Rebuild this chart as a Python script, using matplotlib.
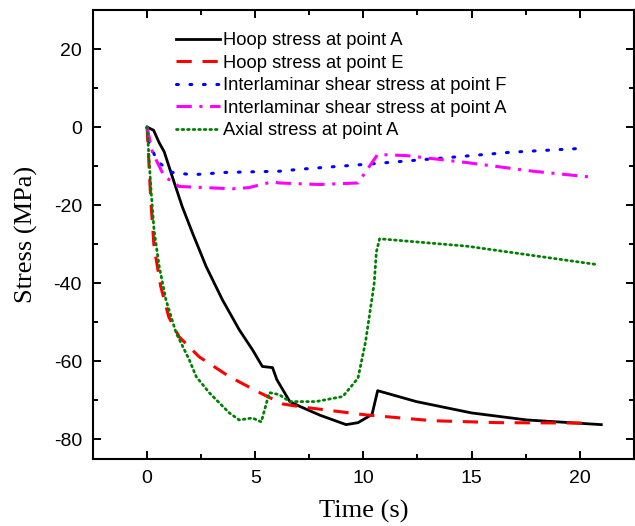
import matplotlib
matplotlib.use("Agg")
import matplotlib.pyplot as plt
from matplotlib.ticker import MultipleLocator

# Hoop stress at point A
t_hoop_a = [0, 0.3, 0.56, 0.79, 1.16, 1.62, 2.09, 2.73, 3.48, 4.26, 4.87, 5.33, 5.8, 6.0, 6.6, 7.05, 8.0, 9.2, 9.75,
            10.4, 10.66, 12.45, 15.0, 17.55, 21.0]
s_hoop_a = [0, -0.8, -4, -6.3, -12.6, -20.3, -27, -35.7, -44.2, -51.9, -57, -61.3, -61.6, -64.7, -70.3, -71.5, -73.8,
            -76.2, -75.7, -73.6, -67.5, -70.3, -73.2, -75.0, -76.2]

# Hoop stress at point E
t_hoop_e = [0, 0.17, 0.32, 0.63, 1.0, 1.48, 2.4, 3.8, 5.2, 6.27, 7.05, 10.1, 13.2, 16.3, 20.25]
s_hoop_e = [0, -18.6, -30.6, -40.8, -48.6, -53.7, -58.8, -63.9, -68, -70.9, -71.6, -73.7, -75.2, -75.7, -75.8]

# Interlaminar shear stress at point F
t_shear_f = [0, 0.1, 0.47, 1.16, 2.09, 3.63, 6.1, 7.05, 10.4, 13.7, 16.9, 20.25]
s_shear_f = [0, -4, -8.8, -11.6, -12.2, -11.6, -11.3, -10.8, -9.4, -7.9, -6.4, -5.4]

# Interlaminar shear stress at point A
t_shear_a = [0, 0.25, 0.79, 1.48, 3.95, 4.7, 5.8, 6.1, 7.97, 9.75, 10.66, 12.0, 14.8, 17.85, 20.7]
s_shear_a = [0, -6.5, -12.6, -15.2, -15.8, -15.5, -14, -14.3, -14.7, -14.3, -7, -7.3, -9.1, -11.3, -12.9]

# Axial stress at point A
t_axial_a = [0, 0.17, 0.32, 0.56, 0.87, 1.34, 1.95, 2.27, 2.87, 3.8, 4.26, 4.87, 5.28, 5.65, 6.1, 6.6, 7.8, 9.05,
             9.75, 10.1, 10.5, 10.6, 10.75, 14.8, 20.8]
s_axial_a = [0, -15.2, -26.3, -35.7, -44.2, -52.7, -59.6, -63.9, -68, -73.2, -75, -74.5, -75.5, -68, -68.5, -70.3,
             -70.3, -69, -64.3, -55, -40, -32, -28.6, -30.5, -35.2]

plt.rcParams["font.family"] = ["Liberation Sans", "DejaVu Sans"]
plt.rcParams["axes.unicode_minus"] = False

fig = plt.figure(figsize=(6.35, 5.26), dpi=100)
ax = fig.add_axes([0.1465, 0.1274, 0.8515, 0.8536])

ax.plot(t_hoop_a, s_hoop_a, color="black", lw=2.0, label="Hoop stress at point A")
ax.plot(t_hoop_e, s_hoop_e, color="red", lw=2.2, dashes=(5, 3.5), label="Hoop stress at point E")
ax.plot(t_shear_f, s_shear_f, color="blue", lw=2.2, linestyle=(0, (0.6, 3.8)), dash_capstyle="round",
        label="Interlaminar shear stress at point F")
ax.plot(t_shear_a, s_shear_a, color="magenta", lw=2.2, linestyle=(0, (5, 2.5, 1, 2.5)),
        label="Interlaminar shear stress at point A")
ax.plot(t_axial_a, s_axial_a, color="green", lw=2.0, linestyle=(0, (0.6, 1.4)), dash_capstyle="round",
        label="Axial stress at point A")

ax.set_xlim(-2.5, 22.5)
ax.set_ylim(-85, 30)
ax.xaxis.set_major_locator(MultipleLocator(5))
ax.xaxis.set_minor_locator(MultipleLocator(2.5))
ax.yaxis.set_major_locator(MultipleLocator(20))
ax.yaxis.set_minor_locator(MultipleLocator(10))
ax.tick_params(which="both", direction="in", top=True, right=True, width=1.4, labelsize=14, pad=8)
ax.tick_params(which="major", length=6)
ax.tick_params(which="minor", length=3.5)
ax.tick_params(axis="x", which="both", labeltop=False)
ax.tick_params(axis="y", which="both", labelright=False)
for sp in ax.spines.values():
    sp.set_linewidth(1.5)

ax.set_xlabel("Time (s)", family="Liberation Serif", fontsize=19, labelpad=9)
ax.set_ylabel("Stress (MPa)", family="Liberation Serif", fontsize=19, labelpad=11)

ax.legend(loc="upper left", bbox_to_anchor=(0.14, 0.967), frameon=False, fontsize=13.2,
          handlelength=2.4, handletextpad=0.15, labelspacing=0.30, borderaxespad=0)

fig.savefig("out.png", dpi=100)
